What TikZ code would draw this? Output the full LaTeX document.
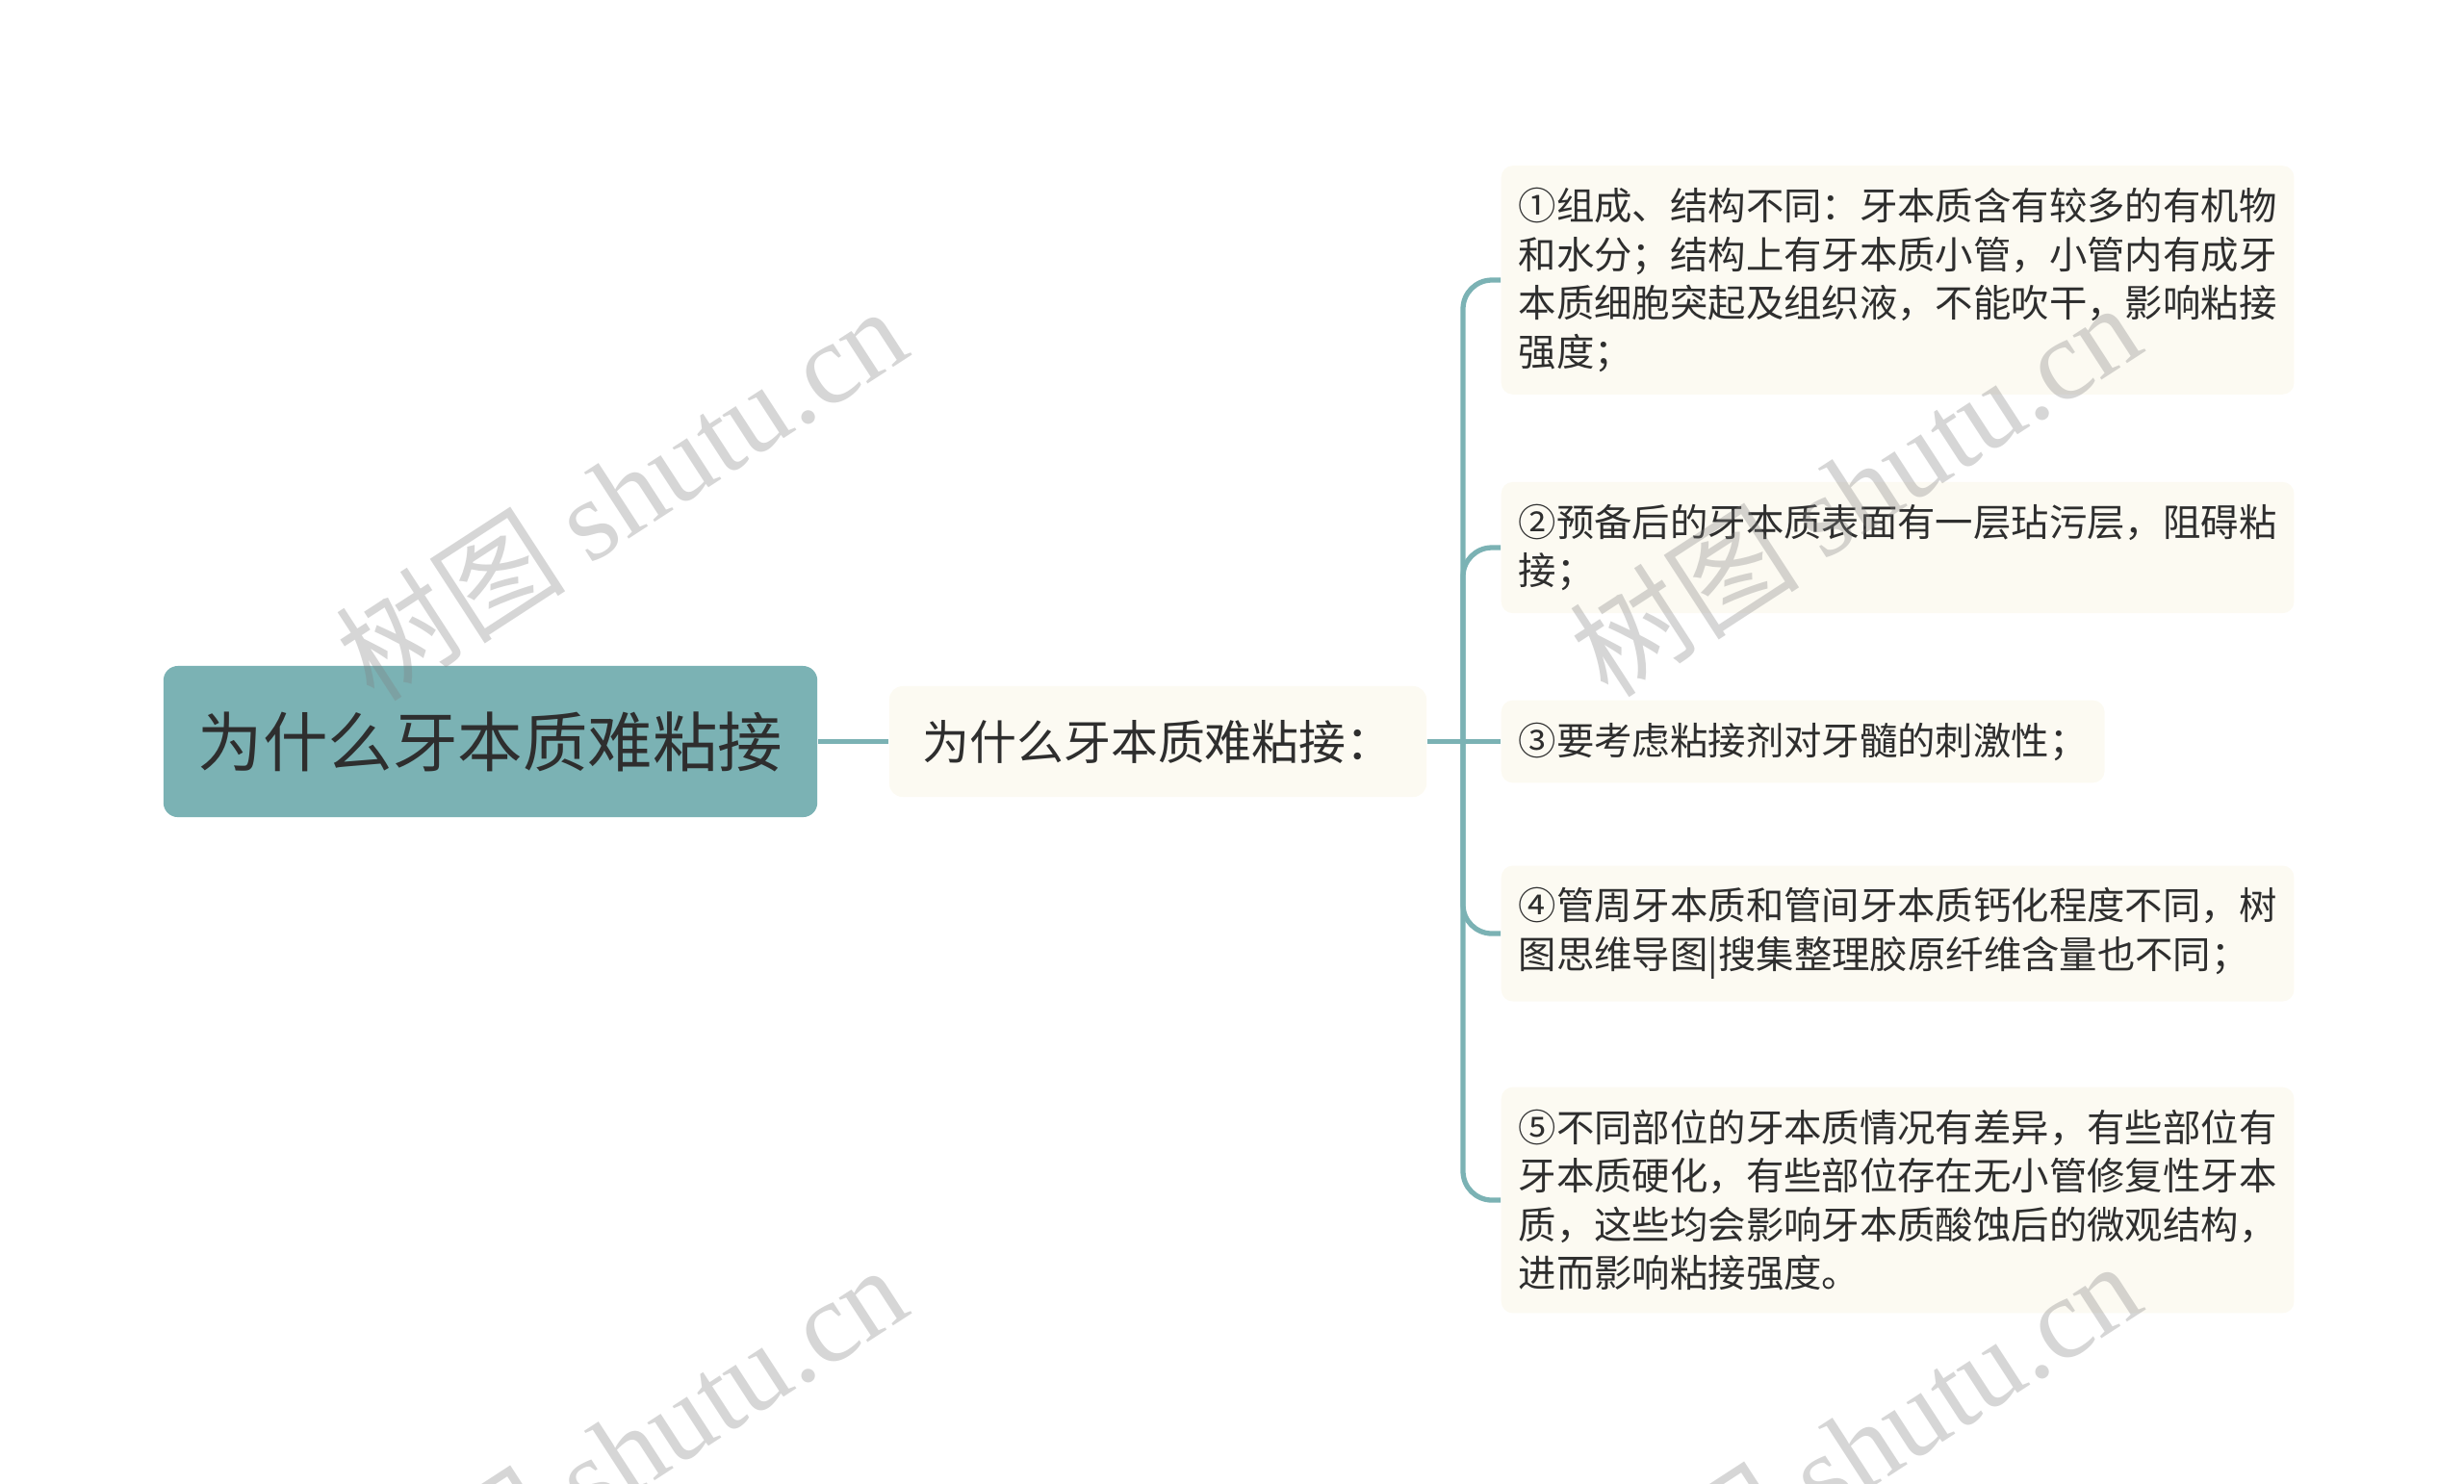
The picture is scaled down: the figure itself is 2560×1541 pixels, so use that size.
\documentclass[tikz,border=0pt]{standalone}
\usepackage{fontspec}
\setmainfont{Noto Sans CJK SC}
\newfontfamily\wmlatin{Liberation Serif}
\definecolor{rootfill}{HTML}{7BB2B4}
\definecolor{branchcol}{HTML}{7BB2B4}
\definecolor{leaffill}{HTML}{FCFAF2}
\definecolor{txt}{HTML}{2E2E2E}
\definecolor{wmgray}{HTML}{808080}

\begin{document}
\begin{tikzpicture}[x=0.01cm,y=-0.01cm,
  rootbox/.style={fill=rootfill, rounded corners=0.15cm, minimum width=6.79cm, minimum height=1.57cm, inner sep=0pt, text=txt, font=\fontsize{19.2pt}{23pt}\selectfont},
  subbox/.style={fill=leaffill, rounded corners=0.14cm, minimum width=5.58cm, minimum height=1.15cm, inner sep=0pt, text=txt, font=\fontsize{13.9pt}{17pt}\selectfont},
  leafbox/.style={fill=leaffill, rounded corners=0.12cm, anchor=west, align=left, inner xsep=0.18cm, inner ysep=0.23cm, text=txt, font=\fontsize{11.2pt}{14.4pt}\selectfont},
  link/.style={draw=branchcol, line width=1.5pt},
  wmtext/.style={text=wmgray, text opacity=0.32, rotate=33, font=\fontsize{34pt}{38pt}\selectfont}]
  \useasboundingbox (0,0) rectangle (2560,1541);
  \node[rootbox] (root) at (509.5,770.5) {为什么牙本质难粘接};
  \node[subbox] (why) at (1203,770.5) {为什么牙本质难粘接：};
  \coordinate (fork) at (1520,770.5);
  \node[leafbox] (c1) at (1559,291) {①组成、结构不同：牙本质含有较多的有机物\\和水分；结构上有牙本质小管，小管内有成牙\\本质细胞突起及组织液，不能吹干，影响粘接\\强度；};
  \node[leafbox] (c2) at (1559,569) {②预备后的牙本质表面有一层玷污层，阻碍粘\\接；};
  \node[leafbox] (c3) at (1559,770.5) {③要考虑粘接剂对牙髓的刺激性；};
  \node[leafbox] (c4) at (1559,970) {④管周牙本质和管间牙本质钙化程度不同，树\\图思维导图|搜集整理胶原纤维含量也不同；};
  \node[leafbox] (c5) at (1559,1247) {⑤不同部位的牙本质情况有差异，有些部位有\\牙本质硬化，有些部位存在无小管修复性牙本\\质，这些均会影响牙本质酸蚀后的微观结构，\\进而影响粘接强度。};
  \draw[link] (root.east) -- (why.west);
  \draw[link] (why.east) -- (c3.west);
  \foreach \leaf in {c1,c2,c4,c5}
    \draw[link, rounded corners=0.3cm] (fork) |- (\leaf.west);
  \node[wmtext] (wmA) at (645,512) {树图 {\wmlatin shutu.cn}};
  \node[wmtext] (wmB) at (1927,508) {树图 {\wmlatin shutu.cn}};
  \node[wmtext] (wmC) at (645,1508) {树图 {\wmlatin shutu.cn}};
  \node[wmtext] (wmD) at (1927,1504) {树图 {\wmlatin shutu.cn}};
\end{tikzpicture}
\end{document}
